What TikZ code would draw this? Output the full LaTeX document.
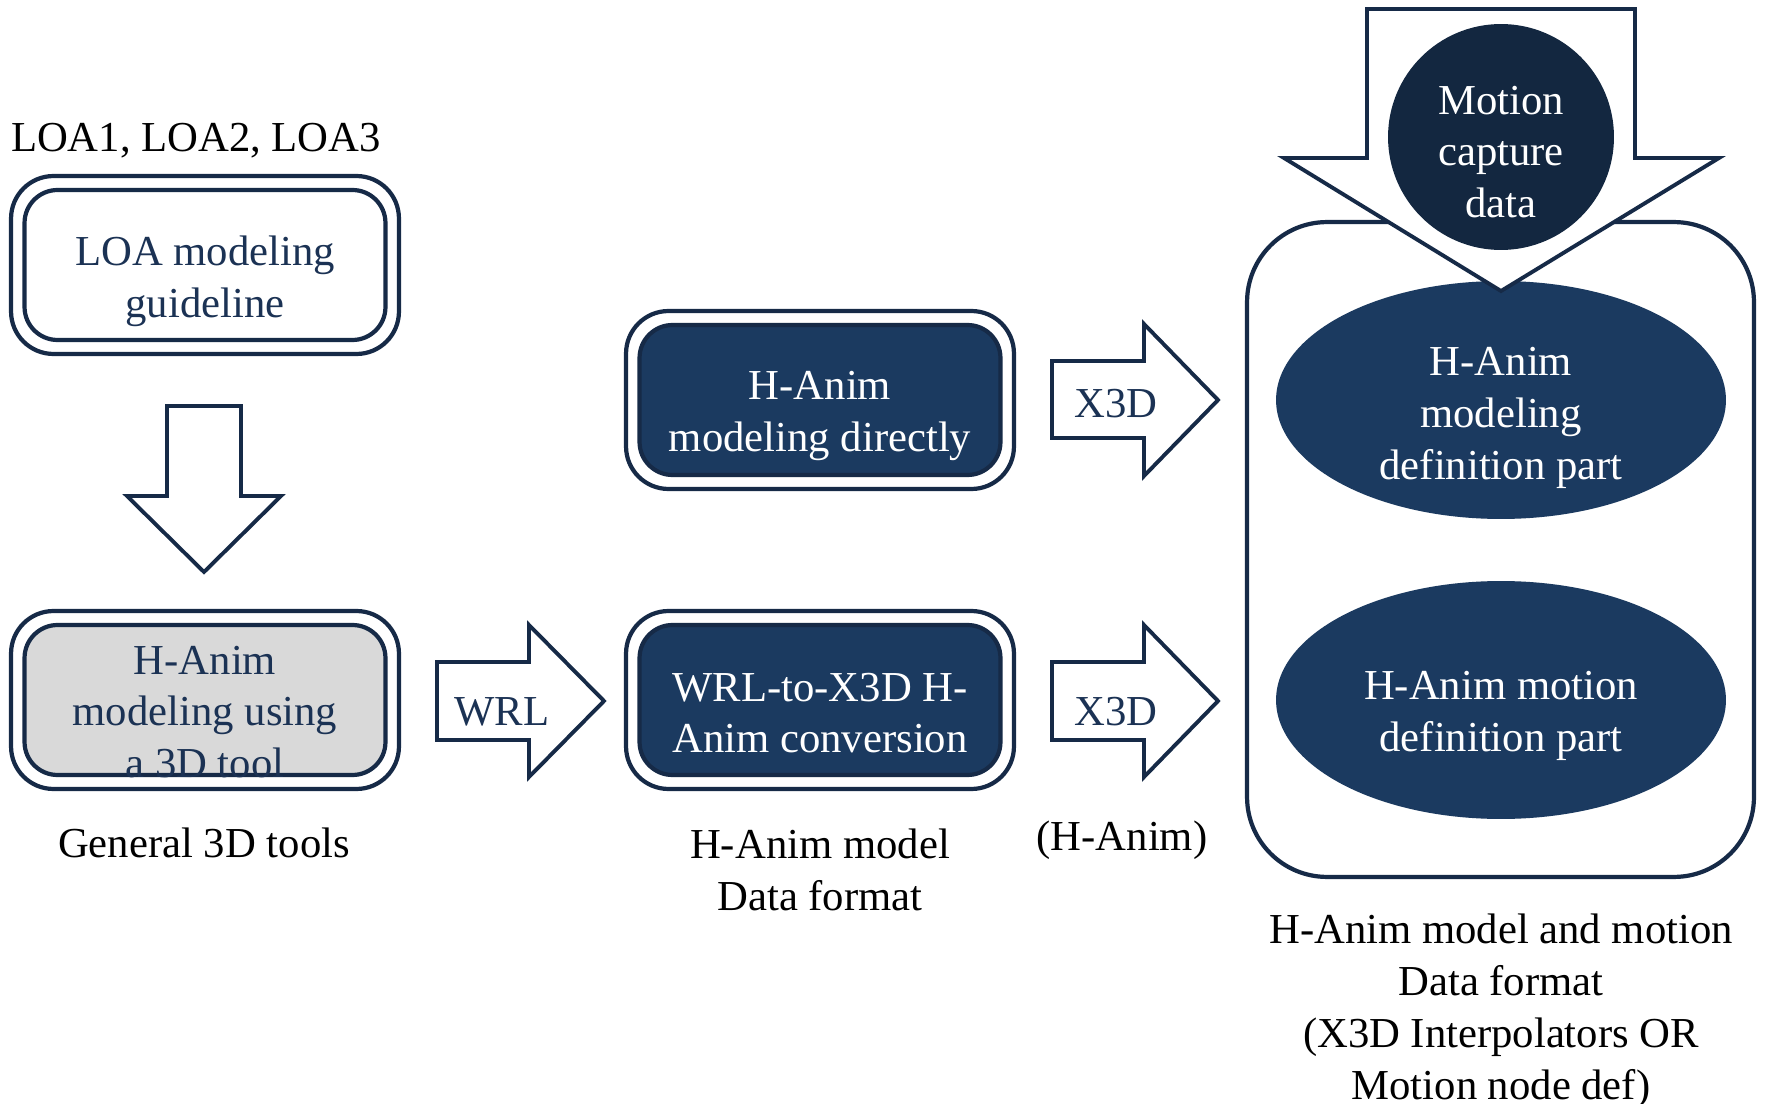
\documentclass[tikz,border=0pt]{standalone}
\usepackage{fontspec}
\setmainfont{Liberation Serif}
\usetikzlibrary{shapes.geometric}
\definecolor{edge}{HTML}{162A47}
\definecolor{boxfill}{HTML}{1B3A60}
\definecolor{capfill}{HTML}{132740}
\definecolor{inktext}{HTML}{1B3254}
\definecolor{toolgray}{HTML}{D9D9D9}
\begin{document}
\begin{tikzpicture}[x=0.02cm,y=-0.02cm,
  every node/.style={inner sep=0pt, outer sep=0pt},
  btxt/.style={font=\fontsize{24.3}{29.5}\selectfont, align=center},
  outerbox/.style={draw=edge, line width=2.4pt, fill=white, rounded corners=0.85cm,
    minimum width=7.76cm, minimum height=3.56cm},
  innerbox/.style={draw=edge, line width=2.4pt, rounded corners=0.66cm,
    minimum width=7.22cm, minimum height=3.0cm},
  blockarrow/.style={draw=edge, line width=2.2pt, fill=white, line join=miter},
  partellipse/.style={ellipse, fill=boxfill, minimum width=9cm, minimum height=4.76cm},
]
\useasboundingbox (0,0) rectangle (1765,1104);

% ---------- left column ----------
\node[btxt, anchor=base west] (loas) at (11,152) {LOA1, LOA2, LOA3};

\node[outerbox] (loaO) at (205,265) {};
\node[innerbox, fill=white] (loaI) at (205,265) {};
\node[btxt, text=inktext] (loaT) at (205,281) {LOA modeling\\guideline};

\draw[blockarrow] (167,406) -- (241,406) -- (241,496) -- (281,496) -- (204,572)
  -- (127,496) -- (167,496) -- cycle;

\node[outerbox] (toolO) at (205,700) {};
\node[innerbox, fill=toolgray] (toolI) at (205,700) {};
\node[btxt, text=inktext] (toolT) at (205,712) {H-Anim\\modeling using\\a 3D tool};
\node[btxt, anchor=base] (toolC) at (204,857) {General 3D tools};

% WRL arrow
\draw[blockarrow] (437,662) -- (529,662) -- (529,625) -- (604,701) -- (529,777)
  -- (529,740) -- (437,740) -- cycle;
\node[btxt, text=inktext, anchor=base] (wrl) at (502,725) {WRL};

% ---------- middle column ----------
\node[outerbox] (dirO) at (820,400) {};
\node[innerbox, fill=boxfill] (dirI) at (820,400) {};
\node[btxt, text=white] (dirT) at (820,416) {H-Anim\\modeling directly};

\node[outerbox] (convO) at (820,700) {};
\node[innerbox, fill=boxfill] (convI) at (820,700) {};
\node[btxt, text=white] (convT) at (820,713) {WRL-to-X3D H-\\Anim conversion};
\node[btxt] (fmtC) at (820,870) {H-Anim model\\Data format};

% X3D arrows
\draw[blockarrow] (1052,361) -- (1144,361) -- (1144,324) -- (1218,400) -- (1144,476)
  -- (1144,438) -- (1052,438) -- cycle;
\node[btxt, text=inktext, anchor=base] (x3dA) at (1116,418) {X3D};
\draw[blockarrow] (1052,662) -- (1144,662) -- (1144,625) -- (1218,701) -- (1144,777)
  -- (1144,740) -- (1052,740) -- cycle;
\node[btxt, text=inktext, anchor=base] (x3dB) at (1116,725) {X3D};
\node[btxt, anchor=base] (hanimC) at (1122,850) {(H-Anim)};

% ---------- right column ----------
\node[draw=edge, line width=2.4pt, fill=white, rounded corners=1.6cm,
  minimum width=10.14cm, minimum height=13.1cm] (frame) at (1500.5,549.5) {};
\node[partellipse] (modelPart) at (1501,400) {};
\node[btxt, text=white] (modelT) at (1501,418) {H-Anim\\modeling\\definition part};
\node[partellipse] (motionPart) at (1501,700) {};
\node[btxt, text=white] (motionT) at (1501,716) {H-Anim motion\\definition part};

\draw[blockarrow] (1367,9) -- (1635,9) -- (1635,158) -- (1719,158) -- (1501,291)
  -- (1284,158) -- (1367,158) -- cycle;
\node[circle, fill=capfill, minimum size=4.52cm] (mocap) at (1501,137) {};
\node[btxt, text=white] (mocapT) at (1501,152) {Motion\\capture\\data};

\node[btxt] (finalC) at (1501,1011) {H-Anim model and motion\\Data format\\(X3D Interpolators OR\\Motion node def)};
\end{tikzpicture}
\end{document}
